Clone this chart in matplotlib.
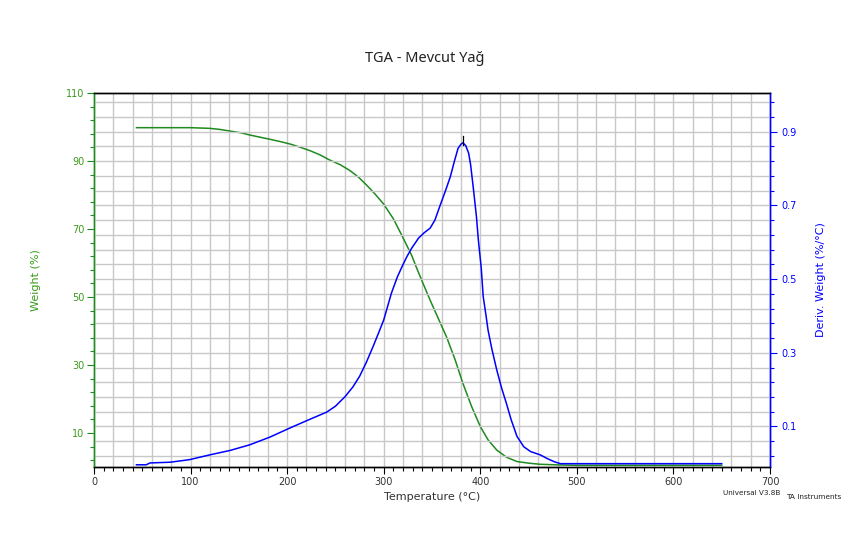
import matplotlib
matplotlib.use("Agg")
import matplotlib.pyplot as plt
import numpy as np
from matplotlib.ticker import MultipleLocator, FixedLocator

# ---- data ----
temp_w = [44, 60, 80, 100, 110, 120, 130, 141, 152, 162, 172, 182, 193, 203, 213,
          224, 234, 244, 255, 265, 274, 282, 291, 300, 310, 319, 329, 334, 341,
          348, 356, 365, 374, 382, 391, 400, 408, 417, 427, 438, 451, 462, 482,
          500, 550, 600, 650]
weight = [99.8, 99.8, 99.8, 99.8, 99.7, 99.6, 99.3, 98.8, 98.3, 97.6, 97.0, 96.4,
          95.7, 95.0, 94.1, 93.0, 91.8, 90.3, 88.9, 87.2, 85.2, 83.0, 80.3, 77.3,
          73.0, 68.0, 62.2, 58.6, 53.8, 49.1, 44.0, 38.3, 31.5, 24.6, 17.8, 11.9,
          8.0, 5.0, 2.9, 1.6, 1.1, 0.8, 0.6, 0.5, 0.5, 0.5, 0.5]

temp_d = [44, 54, 58, 79, 99, 120, 141, 161, 182, 203, 224, 241, 250, 260, 268,
          275, 282, 289, 295, 300, 308, 314, 319, 324, 329, 336, 342, 348, 353,
          358, 364, 369, 373, 377, 380, 382, 385, 388, 390, 393, 396, 398, 401,
          403, 406, 408, 412, 417, 422, 427, 432, 438, 445, 452, 462, 470, 477,
          483, 550, 650]
deriv = [-0.004, -0.004, 0.001, 0.003, 0.010, 0.023, 0.035, 0.050, 0.071, 0.096,
         0.120, 0.139, 0.155, 0.181, 0.207, 0.236, 0.274, 0.317, 0.356, 0.389,
         0.462, 0.505, 0.534, 0.561, 0.584, 0.611, 0.626, 0.638, 0.660, 0.697,
         0.740, 0.778, 0.818, 0.855, 0.866, 0.870, 0.862, 0.841, 0.810, 0.742,
         0.670, 0.606, 0.530, 0.453, 0.400, 0.362, 0.310, 0.254, 0.205, 0.163,
         0.118, 0.073, 0.045, 0.032, 0.023, 0.012, 0.004, -0.001, -0.001, -0.001]

peak_temp = 382
peak_marker = [0.864, 0.888]

x_labels = [0, 100, 200, 300, 400, 500, 600, 700]
left_labels = [10, 30, 50, 70, 90, 110]
right_labels = [0.1, 0.3, 0.5, 0.7, 0.9]

GREEN = "#1f8a1f"
GREEN_TXT = "#3a9a1a"
BLUE = "#0000ff"
GRID = "#c8c8c8"

plt.rcParams['font.family'] = ['DejaVu Sans']

fig = plt.figure(figsize=(8.5, 5.5), dpi=100)
ax = fig.add_axes([94/850, 1-467/550, 676/850, 374/550])
ax2 = ax.twinx()

ax.set_xlim(0, 700)
ax.set_ylim(0, 110)
ax2.set_ylim(-0.01, 1.005)

# grid: vertical every 20 C, horizontal at right-axis ticks
for t in np.arange(20, 700, 20):
    ax.axvline(t, color=GRID, lw=1.0, zorder=0)
rticks = [round(0.02 + 0.04*k, 2) for k in range(25)]
for r in rticks:
    ax2.axhline(r, color=GRID, lw=1.0, zorder=0)

ax.plot(temp_w, weight, color=GREEN, lw=1.1, zorder=3)
ax2.plot(temp_d, deriv, color=BLUE, lw=1.1, zorder=3)
ax2.plot([peak_temp, peak_temp], peak_marker, color="black", lw=0.9, zorder=4)

# x axis ticks
ax.xaxis.set_major_locator(FixedLocator(x_labels))
ax.xaxis.set_minor_locator(MultipleLocator(10))
ax.tick_params(axis='x', which='major', length=5, width=0.8, labelsize=7,
               colors='black', labelcolor='#333333', pad=2)
ax.tick_params(axis='x', which='minor', length=3, width=0.8)

# left axis
ax.yaxis.set_major_locator(FixedLocator(left_labels))
ax.yaxis.set_minor_locator(FixedLocator([v for v in range(2, 111, 4) if v not in left_labels]))
ax.tick_params(axis='y', which='major', length=5, width=0.8, labelsize=7,
               colors=GREEN, labelcolor=GREEN_TXT, pad=2)
ax.tick_params(axis='y', which='minor', length=3, width=0.8, colors=GREEN)

# right axis
ax2.yaxis.set_major_locator(FixedLocator(right_labels))
ax2.yaxis.set_minor_locator(FixedLocator([r for r in rticks if round(r, 2) not in right_labels]))
ax2.tick_params(axis='y', which='major', length=5, width=0.8, labelsize=7,
                colors=BLUE, labelcolor=BLUE, pad=3)
ax2.tick_params(axis='y', which='minor', length=3, width=0.8, colors=BLUE)

for a in (ax, ax2):
    a.spines['top'].set_color('black')
    a.spines['bottom'].set_color('black')
    a.spines['left'].set_color(GREEN)
    a.spines['right'].set_color(BLUE)
    for s in a.spines.values():
        s.set_linewidth(1.0)

ax.set_xlabel("Temperature (°C)", fontsize=8, color='#333333', labelpad=4)
ax.set_ylabel("Weight (%)", fontsize=8, color=GREEN_TXT, labelpad=18)
ax2.set_ylabel("Deriv. Weight (%/°C)", fontsize=8, color=BLUE, labelpad=14)

fig.text(0.5, 1-58/550, "TGA - Mevcut Yağ", ha='center', va='center',
         fontsize=10.5, family='Noto Sans', color='#222222')
fig.text(723/850, 1-493/550, "Universal V3.8B", ha='left', va='center',
         fontsize=5.2, color='#222222')
fig.text(786/850, 1-497/550, "TA Instruments", ha='left', va='center',
         fontsize=5.3, color='#222222')

fig.savefig("out.png", dpi=100)
